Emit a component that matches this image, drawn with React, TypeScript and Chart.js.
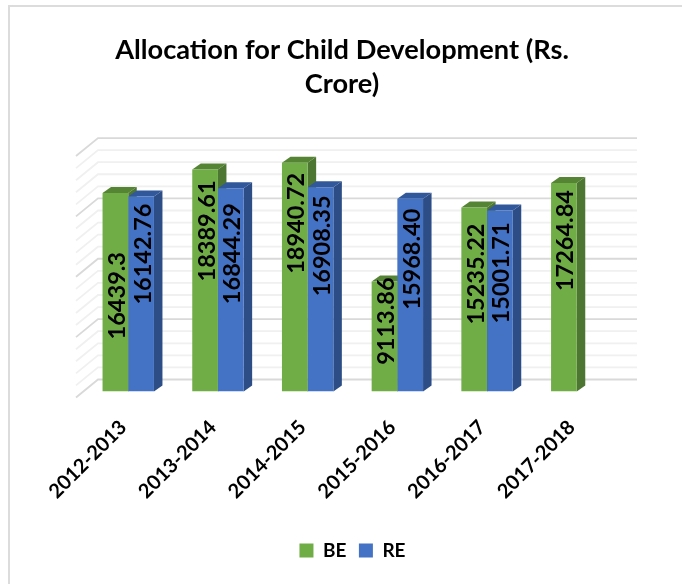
import React, { useEffect, useRef } from "react";
import { Chart, registerables } from "chart.js";

Chart.register(...registerables);

const categories = ["2012-2013", "2013-2014", "2014-2015", "2015-2016", "2016-2017", "2017-2018"];
const beValues = [16439.3, 18389.61, 18940.72, 9113.86, 15235.22, 17264.84];
const reValues: (number | null)[] = [16142.76, 16844.29, 16908.35, 15968.4, 15001.71, null];
const beLabels = ["16439.3", "18389.61", "18940.72", "9113.86", "15235.22", "17264.84"];
const reLabels = ["16142.76", "16844.29", "16908.35", "15968.40", "15001.71", ""];
const titleLines = ["Allocation for Child Development (Rs.", "Crore)"];

// Pixel gap from each bar's top to the upper end of its rotated label.
const beLabelGaps = [59, 11, 10, -4, 16, 7];
const reLabelGaps = [7, 15, 8, 10, 12, 0];

const FONT = "Lato, 'Open Sans', sans-serif";
const GREEN = "#70ad47";
const BLUE = "#4472c4";
const SIDE = ["#4c7631", "#2c4d86"];
const TOP = ["#568435", "#31589a"];
const DX = 8.5;
const DY = 6;

const walls = {
  id: "walls",
  afterLayout(chart: any) {
    // The title sits over the whole frame, not over the plot.
    const t = chart.titleBlock;
    t.left -= 10.5;
    t.right -= 10.5;
  },
  beforeDatasetsDraw(chart: any) {
    const { ctx, chartArea: a, scales } = chart;
    const y = scales.y;
    ctx.save();
    y.ticks.forEach((t: any) => {
      const p = y.getPixelForValue(t.value);
      ctx.strokeStyle = t.value % 5000 === 0 ? "#d9d9d9" : "#f0f0f0";
      ctx.lineWidth = 1.8;
      ctx.beginPath();
      ctx.moveTo(a.left - 7.4, p + 6);
      ctx.lineTo(a.left + 14.6, p - 12);
      ctx.lineTo(a.right + 15.4, p - 12);
      ctx.stroke();
    });
    // 3D faces of every bar, behind the fronts the library draws next.
    for (let i = 0; i < categories.length; i++) {
      [0, 1].forEach((d) => {
        const bar: any = chart.getDatasetMeta(d).data[i];
        const raw = chart.data.datasets[d].data[i];
        if (!bar || raw == null) return;
        const l = bar.x - bar.width / 2;
        const r = bar.x + bar.width / 2;
        ctx.fillStyle = SIDE[d];
        ctx.beginPath();
        ctx.moveTo(r, bar.y);
        ctx.lineTo(r + DX, bar.y - DY);
        ctx.lineTo(r + DX, bar.base - DY);
        ctx.lineTo(r, bar.base);
        ctx.closePath();
        ctx.fill();
        ctx.fillStyle = TOP[d];
        ctx.beginPath();
        ctx.moveTo(l, bar.y);
        ctx.lineTo(l + DX, bar.y - DY);
        ctx.lineTo(r + DX, bar.y - DY);
        ctx.lineTo(r, bar.y);
        ctx.closePath();
        ctx.fill();
      });
    }
    ctx.restore();
  },
  afterDatasetsDraw(chart: any) {
    const { ctx } = chart;
    ctx.save();
    ctx.fillStyle = "#000";
    ctx.font = `bold 23.5px ${FONT}`;
    ctx.textAlign = "right";
    ctx.textBaseline = "middle";
    [beLabels, reLabels].forEach((labels, d) => {
      const gaps = d === 0 ? beLabelGaps : reLabelGaps;
      labels.forEach((text, i) => {
        if (!text) return;
        const bar: any = chart.getDatasetMeta(d).data[i];
        ctx.save();
        ctx.translate(bar.x + 2, bar.y + gaps[i]);
        ctx.rotate(-Math.PI / 2);
        ctx.fillText(text, 0, 0);
        ctx.restore();
      });
    });
    ctx.restore();
  },
};

export default function App() {
  const ref = useRef<HTMLCanvasElement>(null);
  useEffect(() => {
    const chart = new Chart(ref.current!, {
      type: "bar",
      data: {
        labels: categories,
        datasets: [
          { label: "BE", data: beValues, backgroundColor: GREEN, borderWidth: 0, barPercentage: 1, categoryPercentage: 0.573 },
          { label: "RE", data: reValues, backgroundColor: BLUE, borderWidth: 0, barPercentage: 1, categoryPercentage: 0.573 },
        ],
      },
      plugins: [walls],
      options: {
        responsive: false,
        animation: false,
        layout: { padding: { left: 83.4, right: 60.4, top: 0, bottom: 14 } },
        plugins: {
          tooltip: { enabled: false },
          title: {
            display: true,
            text: titleLines,
            color: "#000",
            font: { family: FONT, size: 27.2, weight: "bold", lineHeight: 1.26 },
            padding: { top: 33, bottom: 48.5 },
          },
          legend: {
            position: "bottom",
            labels: {
              color: "#000",
              font: { family: FONT, size: 19, weight: "bold" },
              boxWidth: 14,
              boxHeight: 14,
              padding: 12.5,
            },
          },
        },
        scales: {
          x: {
            grid: { display: false },
            border: { display: false },
            ticks: {
              color: "#000",
              minRotation: 45,
              maxRotation: 45,
              padding: 16,
              labelOffset: -5,
              font: { family: FONT, size: 20, weight: "bold" },
            },
            afterFit: (s: any) => {
              s.height = 137;
              s.paddingLeft = 0;
              s.paddingRight = 0;
            },
          },
          y: {
            min: 0,
            max: 20000,
            grid: { display: false },
            border: { display: false },
            ticks: { display: false, stepSize: 1000 },
            afterFit: (s: any) => {
              s.width = 0;
            },
          },
        },
      },
    });
    return () => chart.destroy();
  }, []);
  return (
    <div style={{ position: "absolute", left: 0, top: 0, width: 682, height: 584, background: "#fff" }}>
      <div style={{ position: "absolute", left: 8, top: 5, right: 0, bottom: 0, borderLeft: "2px solid #dcdcdc", borderTop: "2px solid #dcdcdc" }} />
      <canvas ref={ref} width={682} height={584} style={{ position: "absolute", left: 0, top: 0 }} />
    </div>
  );
}
